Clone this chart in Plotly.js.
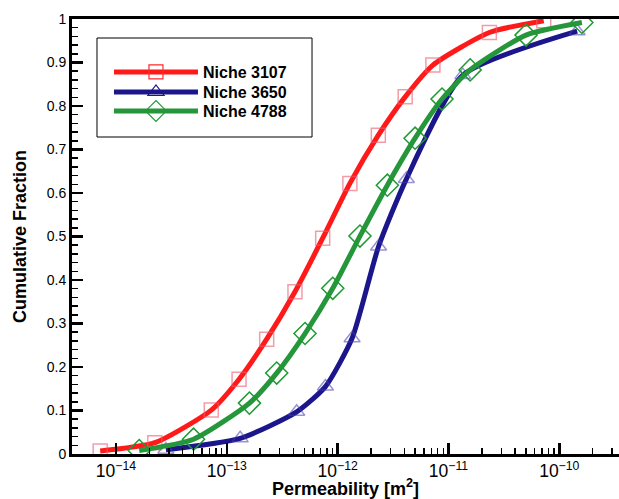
<!DOCTYPE html>
<html><head><meta charset="utf-8">
<script src="https://cdn.plot.ly/plotly-3.0.1.min.js"></script>
<style>html,body{margin:0;padding:0;overflow:hidden;background:#fff}</style>
</head><body><div id="chart" style="width:619px;height:499px"></div>
<script>
const seriesNames = ["Niche 3107", "Niche 3650", "Niche 4788"];
const perm3107 = [7.2e-15, 2.24e-14, 7.24e-14, 1.29e-13, 2.29e-13, 4.12e-13, 7.33e-13, 1.29e-12, 2.33e-12, 4.07e-12, 7.24e-12, 2.34e-11, 7.24e-11];
const frac3107 = [0.007, 0.026, 0.101, 0.172, 0.264, 0.373, 0.496, 0.622, 0.733, 0.821, 0.894, 0.969, 0.996];
const perm3650 = [2.82e-14, 1.32e-13, 4.27e-13, 7.76e-13, 1.35e-12, 2.34e-12, 4.17e-12, 1.35e-11, 1.45e-10];
const frac3650 = [0.010, 0.036, 0.097, 0.155, 0.266, 0.477, 0.632, 0.871, 0.972];
const perm4788 = [1.62e-14, 5.01e-14, 1.60e-13, 2.82e-13, 5.08e-13, 9.04e-13, 1.59e-12, 2.81e-12, 5.00e-12, 8.75e-12, 1.57e-11, 5.01e-11, 1.60e-10];
const frac4788 = [0.008, 0.034, 0.117, 0.186, 0.277, 0.381, 0.501, 0.618, 0.726, 0.816, 0.883, 0.963, 0.992];
const xTitle = "Permeability [m<sup>2</sup>]";
const yTitle = "Cumulative Fraction";
const decades = [-14, -13, -12, -11, -10];
const minorDigits = [2, 3, 4, 5, 6, 7, 8, 9];

const lineColors = ["#ff1a1a", "#1c168c", "#25963a"];
const markerColors = ["rgba(235,90,110,0.6)", "rgba(70,60,170,0.55)", "#1f9a33"];
const legendMarker = ["#ff2a2a", "#1c168c", "#1f9a33"];
const symbols = ["square-open", "triangle-up-open", "diamond-open"];
const sizes = [14, 14, 17];
const xs = [perm3107, perm3650, perm4788];
const ys = [frac3107, frac3650, frac4788];
const legendIds = ["legend", "legend2", "legend3"];

const traces = [];
for (let i = 0; i < 3; i++) {
  traces.push({
    x: xs[i], y: ys[i], type: "scatter", mode: "lines+markers",
    name: seriesNames[i], showlegend: false,
    line: {color: lineColors[i], width: 5, shape: "spline", smoothing: 0.6},
    marker: {symbol: symbols[i], size: sizes[i], color: markerColors[i], line: {width: 1.5}}
  });
}
for (let i = 0; i < 3; i++) {
  traces.push({
    x: [null], y: [null], type: "scatter", mode: "lines+markers",
    name: seriesNames[i], showlegend: true, legend: legendIds[i],
    line: {color: lineColors[i], width: 5},
    marker: {symbol: symbols[i], size: sizes[i], color: legendMarker[i], line: {width: 1.2}}
  });
}
// carrier trace for the minor-tick overlay axes
traces.push({x: [null], y: [null], xaxis: "x2", yaxis: "y2", type: "scatter", mode: "lines", showlegend: false, hoverinfo: "skip"});

const minorX = [];
decades.forEach(d => minorDigits.forEach(m => minorX.push(m * Math.pow(10, d))));

const font = "Liberation Sans, Arial, sans-serif";
const xRange = [-14.397, -9.461];
const legendFont = {family: font, size: 16, color: "#000", weight: "bold"};
function leg(y) {
  return {x: 0.0676, y: y, xanchor: "left", yanchor: "middle", bgcolor: "rgba(0,0,0,0)",
          borderwidth: 0, itemwidth: 84, font: legendFont};
}
const layout = {
  width: 619, height: 499,
  margin: {l: 72, r: 0, t: 19, b: 45},
  paper_bgcolor: "#fff", plot_bgcolor: "rgba(0,0,0,0)",
  font: {family: font, color: "#000"},
  showlegend: true,
  xaxis: {
    type: "log", range: xRange, dtick: 1, exponentformat: "power",
    showline: true, linewidth: 3, linecolor: "#000", mirror: true,
    ticks: "inside", ticklen: 11, tickwidth: 2.5, tickcolor: "#000",
    showgrid: false, zeroline: false,
    tickfont: {family: font, size: 14, color: "#000"},
    title: {text: xTitle, font: {family: font, size: 18, color: "#000", weight: "bold"}, standoff: 0}
  },
  yaxis: {
    range: [0, 1], dtick: 0.1,
    showline: true, linewidth: 3, linecolor: "#000", mirror: false,
    ticks: "inside", ticklen: 11, tickwidth: 2.5, tickcolor: "#000",
    showgrid: false, zeroline: false,
    tickfont: {family: font, size: 14, color: "#000"},
    title: {text: yTitle, font: {family: font, size: 18, color: "#000", weight: "bold"}, standoff: 16}
  },
  xaxis2: {
    type: "log", range: xRange, overlaying: "x", anchor: "y2", side: "bottom",
    tickmode: "array", tickvals: minorX, showticklabels: false,
    ticks: "inside", ticklen: 6, tickwidth: 1.5, tickcolor: "#000",
    showline: false, showgrid: false, zeroline: false
  },
  yaxis2: {
    range: [0, 1], overlaying: "y", anchor: "x2", side: "left",
    tickmode: "linear", tick0: 0, dtick: 0.02, showticklabels: false,
    ticks: "inside", ticklen: 6, tickwidth: 1.5, tickcolor: "#000",
    showline: false, showgrid: false, zeroline: false
  },
  legend: leg(0.878),
  legend2: leg(0.832),
  legend3: leg(0.7885),
  shapes: [{
    type: "rect", xref: "paper", yref: "paper",
    x0: 0.0457, x1: 0.4388, y0: 0.7287, y1: 0.9563,
    line: {color: "#000", width: 1}, fillcolor: "rgba(0,0,0,0)"
  }]
};
Plotly.newPlot("chart", traces, layout, {displayModeBar: false, staticPlot: true});
</script></body></html>
